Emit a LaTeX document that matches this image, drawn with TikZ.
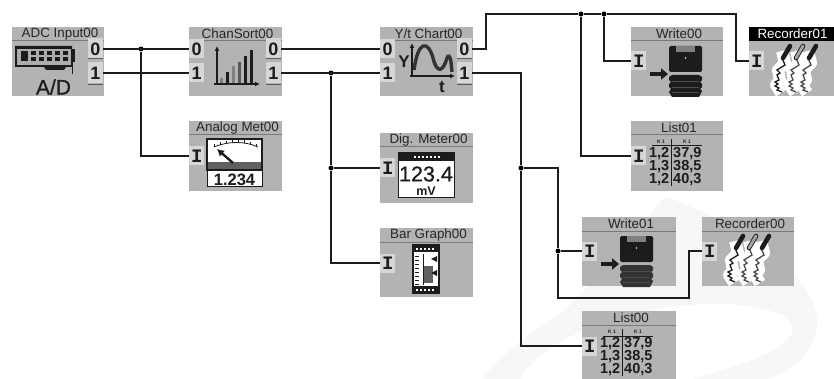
\documentclass[tikz,border=0pt]{standalone}
\usepackage{fontspec}
\setmainfont{Liberation Sans}
\newfontfamily\slabfont{Liberation Mono}
\newfontfamily\semibold[FakeBold=0.7]{Liberation Sans}
\definecolor{blockgray}{HTML}{B3B3B3}
\definecolor{titleline}{HTML}{7A7A7A}
\definecolor{portlight}{HTML}{D6D6D6}
\definecolor{ink}{HTML}{1C1C1C}
\definecolor{wm}{HTML}{F7F7F7}
\usetikzlibrary{calc,arrows.meta}
\tikzset{
  blockbody/.style={anchor=north west,fill=blockgray,inner sep=0pt,minimum width=#1},
  titlelabel/.style={anchor=center,inner sep=0pt,font=\fontsize{13.4}{13.4}\selectfont,text=black!85},
  inport/.style={fill=portlight,inner sep=0pt,minimum width=15pt,minimum height=19pt,anchor=west,font=\fontsize{18}{18}\selectfont\bfseries,text=ink},
  outport/.style={fill=portlight,inner sep=0pt,minimum width=15pt,minimum height=21pt,anchor=east,font=\fontsize{18}{18}\selectfont\bfseries,text=ink},
  inI/.style={inport,font=\fontsize{19}{19}\selectfont\slabfont\bfseries},
  wire/.style={draw=ink,line width=2pt},
  junction/.style={circle,fill=black,inner sep=0pt,minimum size=5pt},
  cell/.style={inner sep=0pt,font=\fontsize{14.5}{14.5}\selectfont\bfseries,text=ink},
  tiny head/.style={inner sep=0pt,font=\fontsize{5}{5}\selectfont\bfseries,text=ink},
}
% name, x, y, h, w, title
\newcommand{\fbblk}[6]{%
  \node[blockbody=#5,minimum height=#4pt] (#1) at (#2,#3) {};
  \draw[titleline,line width=1pt] (#2,#3+14) -- ++(#5,0);
  \node[titlelabel] (#1t) at ($(#2,#3)+(0.5*#5+2,7)$) {#6};
}
% x, y of block: list table
\newcommand{\listicon}[3]{%
 \begin{scope}[shift={(#1,#2)}]
  \draw[ink,line width=1pt] (21,25) -- (71,25);
  \draw[ink,line width=1pt] (40,18) -- (40,65);
  \node[tiny head] (#3a) at (30,21) {K 1};
  \node[tiny head] (#3b) at (56,21) {K 1};
  \node[cell,anchor=east] (#3c) at (38.5,33) {1,2};
  \node[cell,anchor=east] (#3d) at (38.5,46) {1,3};
  \node[cell,anchor=east] (#3e) at (38.5,59) {1,2};
  \node[cell,anchor=west] (#3f) at (42,33) {37,9};
  \node[cell,anchor=west] (#3g) at (42,46) {38,5};
  \node[cell,anchor=west] (#3h) at (42,59) {40,3};
 \end{scope}}
% x, y of block, colour of lower part
\newcommand{\writeicon}[3]{%
 \begin{scope}[shift={(#1,#2)}]
  \fill[ink,rounded corners=1.5pt] (38,19) rectangle (71,45);
  \fill[gray] (45,19) rectangle (64,25);
  \fill[white!70!gray] (54.5,31) circle (0.8);
  \fill[#3] (38,50) -- (41,48) -- (68,48) -- (71,50) -- (71,53) -- (69,55) -- (71,57) -- (71,60) -- (69,62) -- (71,64) -- (68,70) -- (41,70) -- (38,65) -- (40,62) -- (38,60) -- (38,57) -- (40,55) -- (38,53) -- cycle;
  \draw[gray!60!black,line width=.4pt] (41,54) -- (68,54) (41,60) -- (68,60) (41,65) -- (68,65);
  \draw[ink,line width=3.6pt,-{Triangle[length=7pt,width=11pt]}] (19,47) -- (37,47);
 \end{scope}}
\newcommand{\rectrace}[3]{%
 \begin{scope}[shift={(#1,#2)}]
  \draw[white,line width=12pt,line join=round] (33,24) -- (36,36) -- (29,43) -- (31,53) -- (27,58) -- (32,66);
  \draw[#3,line width=1.3pt] (33,31) -- (36,38) -- (28,43) -- (31,46) -- (28,48) -- (30,53) -- (26,55) -- (29,57) -- (26,59) -- (30,61) -- (28,63) -- (33,65);
 \end{scope}}
\newcommand{\pen}[3]{%
 \begin{scope}[shift={(#1,#2)}]
  \draw[line cap=round,ink,line width=4.6pt] (41,19) -- (34,31);
  \draw[line cap=round,#3,line width=2.8pt] (41,19) -- (34,31);
 \end{scope}}
\newcommand{\recicon}[2]{%
  \rectrace{#1}{#2}{ink}
  \rectrace{#1+14}{#2}{gray!60!black}
  \rectrace{#1+26}{#2}{ink!80}
  \pen{#1}{#2}{ink}
  \pen{#1+13}{#2}{gray!70}
  \pen{#1+26}{#2}{ink}
}
\begin{document}
\begin{tikzpicture}[x=1pt,y=-1pt]
\useasboundingbox (0,0) rectangle (834,379);
\fill[white] (0,0) rectangle (834,379);
% faint watermark
\fill[wm] (483,379) .. controls (515,335) and (560,320) .. (580,295) .. controls (610,260) and (640,225) .. (665,197) .. controls (720,215) and (820,270) .. (817,325) .. controls (815,350) and (795,370) .. (767,379) -- (693,379) .. controls (740,365) and (790,350) .. (793,330) .. controls (795,310) and (740,300) .. (690,305) .. controls (620,310) and (540,340) .. (520,379) -- cycle;

% blocks
\fbblk{adc}{12}{27}{69}{92}{ADC Input00}
\fbblk{cs}{189}{27}{69}{93}{ChanSort00}
\fbblk{am}{189}{121}{70}{93}{Analog Met00}
\fbblk{yt}{380}{27}{69}{93}{Y/t Chart00}
\fbblk{dm}{380}{133}{70}{93}{Dig. Meter00}
\fbblk{bg}{380}{228}{69}{93}{Bar Graph00}
\fbblk{wa}{631}{27}{69}{92}{Write00}
\fbblk{ra}{749}{27}{69}{85}{}
\fill[black] (749,27) rectangle (834,41);
\node[titlelabel,text=white] (rat) at (792.5,34) {Recorder01};
\fbblk{la}{631}{121}{70}{92}{List01}
\fbblk{wb}{582}{217}{69}{94}{Write01}
\fbblk{rb}{702}{217}{69}{92}{Recorder00}
\fbblk{lb}{582}{311}{68}{94}{List00}

% ports
\node[outport] (adc0) at (103,49) {0};
\node[outport] (adc1) at (103,73) {1};
\node[inport] (cs0) at (189,49) {0};
\node[inport] (cs1) at (189,73) {1};
\node[outport] (cso0) at (281,49) {0};
\node[outport] (cso1) at (281,73) {1};
\node[inI] (amI) at (189,156) {I};
\node[inport] (yt0) at (380,49) {0};
\node[inport] (yt1) at (380,73) {1};
\node[outport] (yto0) at (472,49) {0};
\node[outport] (yto1) at (472,73) {1};
\node[inI] (dmI) at (380,168) {I};
\node[inI] (bgI) at (380,263) {I};
\node[inI] (waI) at (631,61) {I};
\node[inI] (raI) at (749,61) {I};
\node[inI] (laI) at (631,156) {I};
\node[inI] (wbI) at (582,251) {I};
\node[inI] (rbI) at (702,251) {I};
\node[inI] (lbI) at (582,346) {I};
\foreach \xa/\ya in {88/59,88/85,266/59,266/85,457/59,457/85}{\draw[black!65,line width=1pt] (\xa,\ya) -- ++(15,0);}

% ADC icon
\fill[ink] (15,46) -- (72,46) -- (72,67) -- (66,67) -- (64,70) -- (46,70) -- (44,67) -- (15,67) -- cycle;
\fill[gray!65] (17,49) rectangle (71,65);
\foreach \xb/\wb in {21/6,31/5,39/5,47/5,55/5,63/5}{\fill[ink] (\xb,51) rectangle ++(\wb,4); \fill[ink] (\xb,57) rectangle ++(\wb,4);}
\fill[ink] (21,51) rectangle (28,61);
\fill[ink] (72,49) rectangle (75,62);
\draw[ink,line width=1pt] (72,62) -- (72,74);
\node[inner sep=0pt,font=\fontsize{21}{21}\selectfont\semibold,text=ink] (adt) at (53.5,87) {A/D};

% ChanSort icon
\draw[ink,line width=1.2pt,-{Latex[length=5pt,width=5pt]}] (217,85) -- (217,46);
\draw[ink,line width=1.2pt,-{Latex[length=5pt,width=5pt]}] (214,84) -- (260,84);
\foreach \xc/\tc/\cc in {220/78/gray,226/72/ink,232/66/gray,238/62/gray!70!black,244/56/ink,250/50/ink}{\fill[\cc] (\xc,83) rectangle (\xc+3,\tc);}

% Analog meter icon
\fill[white] (207,139) rectangle (262,162);
\fill[gray!75!black] (207,162) rectangle (262,170);
\draw[ink,line width=1.1pt] (207,139) rectangle (262,170);
\draw[ink,line width=.8pt] (214,147) .. controls (228,141) and (245,141) .. (258,147);
\foreach \xd/\yd in {214/147,220/145,226/143.5,232/142.8,238/142.5,244/143,250/144.5,256/146.5}{\draw[ink,line width=.7pt] (\xd,\yd) -- ++(0,-2.5);}
\draw[ink,line width=2.4pt,-{Latex[length=7pt,width=8pt]}] (233,163) -- (217,149);
\fill[white] (207,171) rectangle (262,187);
\draw[ink,line width=1pt] (207,171) rectangle (262,187);
\node[inner sep=0pt,font=\fontsize{16.5}{16.5}\selectfont\bfseries,text=ink] (amv) at (234.5,179.5) {1.234};

% Y/t icon
\draw[gray!40!black,line width=3.4pt] (414,70) .. controls (418,40) and (428,40) .. (433,58) .. controls (437,74) and (443,72) .. (447,58) .. controls (448,55) and (450,55) .. (451,62) -- (452,72);
\draw[ink,line width=1.2pt,-{Latex[length=5pt,width=5pt]}] (412,77) -- (412,43);
\draw[ink,line width=1.2pt,-{Latex[length=5pt,width=5pt]}] (410,76) -- (455,76);
\node[inner sep=0pt,font=\fontsize{17}{17}\selectfont\bfseries,text=ink] (yty) at (404,62) {Y};
\node[inner sep=0pt,font=\fontsize{17}{17}\selectfont\bfseries,text=ink] (ytt) at (442,87) {t};

% Digital meter icon
\fill[white] (398,153) rectangle (454,198);
\draw[ink,line width=1pt] (398,153) rectangle (454,198);
\fill[ink] (398,153) rectangle (454,161);
\foreach \xe in {414,418,422,426,430,434,438}{\fill[white] (\xe,156) rectangle ++(2,2);}
\node[inner sep=0pt,font=\fontsize{21.5}{21.5}\selectfont\semibold,text=ink] (dmv) at (426,174) {123.4};
\node[inner sep=0pt,font=\fontsize{12.5}{12.5}\selectfont\bfseries,text=ink] (dmu) at (426,191.5) {mV};

% Bar graph icon
\fill[white] (413,245) rectangle (439,293);
\draw[ink,line width=1.4pt] (413,245) rectangle (439,293);
\fill[ink] (413,245) rectangle (439,252);
\fill[ink] (413,286) rectangle (439,293);
\foreach \xf in {416,420,424,428,432}{\fill[white] (\xf,247.5) rectangle ++(2.4,2.2); \fill[white] (\xf,288.5) rectangle ++(2.4,2.2);}
\fill[gray!75!black] (424,266) rectangle (433,283);
\foreach \yf in {256,260,264,268,272,276,280,284}{\draw[ink,line width=1pt] (415,\yf) -- ++(4,0);}
\draw[ink,line width=1pt] (423,254) -- (423,285);
\fill[ink] (437,256) -- (431,259) -- (437,262) -- cycle;
\fill[ink] (437,270) -- (431,273) -- (437,276) -- cycle;

% Write icons
\writeicon{631}{27}{ink}
\writeicon{582}{217}{gray!40!black}
% Recorder icons
\recicon{749}{27}
\recicon{702}{217}
% List icons
\listicon{631}{121}{lista}
\listicon{582}{311}{listb}

% junctions and bends
\node[junction] (j1) at (141,49) {};
\node[junction] (j2) at (331,73) {};
\node[junction] (j3) at (331,168) {};
\node[junction] (j4) at (581,14) {};
\node[junction] (j5) at (604,14) {};
\node[junction] (j6) at (521,168) {};
\node[junction] (j7) at (558,251) {};
\coordinate (b1) at (486,14);
\coordinate (b2) at (736,14);
\coordinate (b3) at (521,73);
\coordinate (b4) at (558,298);
\coordinate (b5) at (689,298);
\coordinate (b6) at (689,251);

% connectors
\draw[wire] (adc0.east) -- (cs0.west);
\draw[wire] (adc1.east) -- (cs1.west);
\draw[wire] (j1) |- (amI.west);
\draw[wire] (cso0.east) -- (yt0.west);
\draw[wire] (cso1.east) -- (yt1.west);
\draw[wire] (j2) -- (j3);
\draw[wire] (j3) -- (dmI.west);
\draw[wire] (j3) |- (bgI.west);
\draw[wire] (yto0.east) -| (b1) -- (j4) -- (j5) -- (b2) |- (raI.west);
\draw[wire] (j5) |- (waI.west);
\draw[wire] (j4) |- (laI.west);
\draw[wire] (yto1.east) -- (b3) -- (j6);
\draw[wire] (j6) |- (lbI.west);
\draw[wire] (j6) -| (j7);
\draw[wire] (j7) -- (wbI.west);
\draw[wire] (j7) -- (b4) -- (b5) -- (b6) -- (rbI.west);
\end{tikzpicture}
\end{document}
